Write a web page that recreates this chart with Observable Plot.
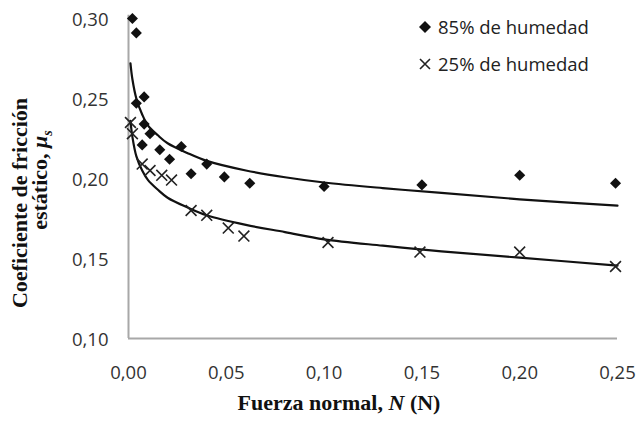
<!DOCTYPE html>
<html>
<head>
<meta charset="utf-8">
<script src="https://cdn.jsdelivr.net/npm/d3@7"></script>
<script src="https://cdn.jsdelivr.net/npm/@observablehq/plot@0.6"></script>
<style>
  html, body { margin: 0; padding: 0; background: #fff; }
  #wrap { position: relative; width: 638px; height: 425px; overflow: hidden; }
  .leg { position: absolute; left: 418px; font-family: "Open Sans", sans-serif; font-size: 18.5px; color: #222; display: flex; align-items: center; white-space: nowrap; }
  .leg svg { margin-right: 6px; }
</style>
</head>
<body>
<div id="wrap"></div>
<script>
// 85% humidity (diamonds)
const x85 = [0.002, 0.004, 0.004, 0.008, 0.008, 0.011, 0.007, 0.016, 0.021, 0.027, 0.032, 0.040, 0.049, 0.062, 0.100, 0.150, 0.200, 0.249];
const y85 = [0.300, 0.291, 0.247, 0.251, 0.234, 0.228, 0.221, 0.218, 0.212, 0.220, 0.203, 0.209, 0.201, 0.197, 0.195, 0.196, 0.202, 0.197];
// 25% humidity (crosses)
const x25 = [0.001, 0.002, 0.007, 0.011, 0.017, 0.022, 0.032, 0.040, 0.051, 0.059, 0.102, 0.149, 0.200, 0.249];
const y25 = [0.235, 0.228, 0.209, 0.205, 0.202, 0.199, 0.180, 0.177, 0.169, 0.164, 0.160, 0.154, 0.154, 0.145];
// Trend curves
const curveX = [0.001, 0.002, 0.004, 0.007, 0.010, 0.015, 0.020, 0.030, 0.040, 0.060, 0.080, 0.100, 0.130, 0.160, 0.200, 0.250];
const curve85 = [0.272, 0.262, 0.250, 0.240, 0.233, 0.227, 0.222, 0.216, 0.211, 0.205, 0.2008, 0.1975, 0.194, 0.191, 0.187, 0.183];
const curve25 = [0.236, 0.226, 0.214, 0.205, 0.199, 0.193, 0.188, 0.182, 0.177, 0.171, 0.1665, 0.162, 0.158, 0.1545, 0.1505, 0.1456];
// Ticks
const xTicks = [0, 0.05, 0.10, 0.15, 0.20, 0.25];
const yTicks = [0.10, 0.15, 0.20, 0.25, 0.30];
const legendLabels = ["85% de humedad", "25% de humedad"];

const pts85 = x85.map((x, i) => ({x, y: y85[i]}));
const pts25 = x25.map((x, i) => ({x, y: y25[i]}));
const c85 = curveX.map((x, i) => ({x, y: curve85[i]}));
const c25 = curveX.map((x, i) => ({x, y: curve25[i]}));
const fmt = d => d.toFixed(2).replace(".", ",");

const chart = Plot.plot({
  width: 638,
  height: 425,
  marginLeft: 128,
  marginRight: 21,
  marginTop: 18,
  marginBottom: 87,
  style: { fontFamily: "'Open Sans', sans-serif", fontSize: "18.5px", color: "#333", background: "#fff", overflow: "visible" },
  x: { domain: [0, 0.25] },
  y: { domain: [0.10, 0.30] },
  marks: [
    Plot.axisX({ ticks: xTicks, tickSize: 0, tickPadding: 27, tickFormat: fmt, label: null, fontSize: 18.5, fill: "#333" }),
    Plot.axisY({ ticks: yTicks, tickSize: 0, tickPadding: 20, tickFormat: fmt, label: null, fontSize: 18.5, fill: "#333", dy: 2 }),
    Plot.ruleY([0.10], { stroke: "#a8a8a8", strokeWidth: 2 }),
    Plot.ruleX([0], { stroke: "#a8a8a8", strokeWidth: 2, y1: 0.10, y2: 0.302 }),
    Plot.line(c85, { x: "x", y: "y", curve: "catmull-rom", stroke: "#111", strokeWidth: 2.2 }),
    Plot.line(c25, { x: "x", y: "y", curve: "catmull-rom", stroke: "#111", strokeWidth: 2.2 }),
    Plot.dot(pts85, { x: "x", y: "y", symbol: "diamond2", r: 5, fill: "#111", stroke: "none" }),
    Plot.dot(pts25, { x: "x", y: "y", symbol: "times", r: 5, stroke: "#222", strokeWidth: 1.6, fill: "none" })
  ]
});

const wrap = document.getElementById("wrap");
wrap.appendChild(chart);

// Axis titles
const svg = d3.select(chart);
const yt = svg.append("g").attr("font-family", "'Liberation Serif', 'Times New Roman', serif").attr("font-weight", "bold").attr("font-size", 22).attr("fill", "#111");
yt.append("text").attr("transform", "translate(27,203) rotate(-90)").attr("text-anchor", "middle").text("Coeficiente de fricción");
const t2 = yt.append("text").attr("transform", "translate(47,180) rotate(-90)").attr("text-anchor", "middle");
t2.append("tspan").text("estático, ");
t2.append("tspan").attr("font-style", "italic").text("μ");
t2.append("tspan").attr("font-style", "italic").attr("font-size", 14).attr("dy", 5).text("s");
const xt = svg.append("text").attr("x", 339).attr("y", 410).attr("text-anchor", "middle")
  .attr("font-family", "'Liberation Serif', 'Times New Roman', serif").attr("font-weight", "bold").attr("font-size", 22).attr("fill", "#111");
xt.append("tspan").text("Fuerza normal, ");
xt.append("tspan").attr("font-style", "italic").text("N");
xt.append("tspan").text(" (N)");

// Legend (HTML overlay)
const leg1 = document.createElement("div");
leg1.className = "leg"; leg1.style.top = "14px";
leg1.innerHTML = '<svg width="14" height="14" viewBox="-7 -7 14 14"><path d="M0,-6L6,0L0,6L-6,0Z" fill="#111"/></svg>' + legendLabels[0];
const leg2 = document.createElement("div");
leg2.className = "leg"; leg2.style.top = "51px";
leg2.innerHTML = '<svg width="14" height="14" viewBox="-7 -7 14 14"><path d="M-5,-5L5,5M5,-5L-5,5" stroke="#222" stroke-width="1.6"/></svg>' + legendLabels[1];
wrap.appendChild(leg1);
wrap.appendChild(leg2);
</script>
</body>
</html>
